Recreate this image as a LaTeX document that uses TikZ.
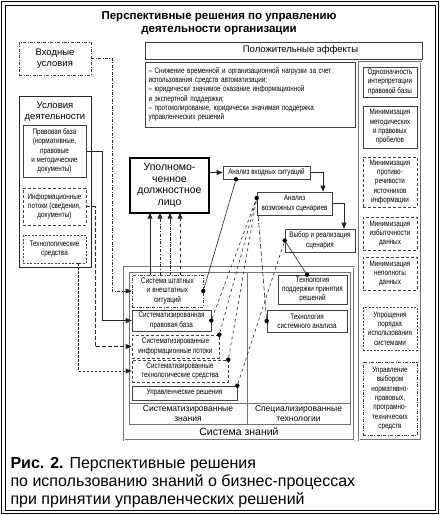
\documentclass[tikz,border=0pt]{standalone}
\usepackage{fontspec}
\setmainfont{Liberation Sans}
\newfontfamily\narrowfont[FakeStretch=0.79]{Liberation Sans}
\usetikzlibrary{arrows.meta, positioning}
\newcommand{\smallfont}{\narrowfont\fontsize{8}{9.3}\selectfont}
\newcommand{\midfont}{\fontsize{9.5}{11}\selectfont}

\begin{document}
\begin{tikzpicture}[x=1pt, y=-1pt,
    box/.style={rectangle, draw=black!75, line width=0.6pt, fill=white, align=center, inner sep=1pt, font=\smallfont},
    dashbox/.style={box, dash pattern=on 3pt off 2pt},
    shortbox/.style={box, dash pattern=on 2pt off 1.5pt},
    dashdotbox/.style={box, dash pattern=on 3pt off 1.5pt on 0.8pt off 1.5pt},
    frame/.style={draw=black!55, line width=0.6pt},
    arrow/.style={-{Triangle[length=6pt, width=5pt]}, line width=0.6pt, draw=black!85},
    link/.style={line width=0.6pt, draw=black!85},
    dot/.style={circle, fill=black, inner sep=0pt, minimum size=4.5pt},
  ]
  \useasboundingbox (0,0) rectangle (440,515);
  % outer frame
  \draw[line width=1.2pt] (1.5,1.5) rectangle (438.5,513.5);
  \draw[line width=0.6pt] (5,5) rectangle (435,510);
  \node[font=\bfseries\fontsize{11.5}{12.5}\selectfont, align=center] (title) at (219,23) {Перспективные решения по управлению\\деятельности организации};

  % left column
  \node[dashdotbox, font=\midfont, minimum width=72, minimum height=33] (vhod) at (55,58.5) {Входные\\условия};
  \node[box, draw=black!85, minimum width=72, minimum height=171] (usl) at (55,181.5) {};
  \node[font=\midfont, align=center, below=3pt of usl.north] (usltitle) {Условия\\деятельности};
  \node[box, minimum width=63, minimum height=52] (prav) at (54.5,151) {Правовая база\\(нормативные,\\правовые\\и методические\\документы)};
  \node[dashbox, minimum width=63, minimum height=37] (info) at (54.5,206.5) {Информационные\\потоки (сведения,\\документы)};
  \node[shortbox, minimum width=63, minimum height=28] (tech) at (54.5,249) {Технологические\\средства};

  % effects
  \node[box, font=\midfont, minimum width=277, minimum height=17] (pos) at (283.5,50.5) {\hspace*{34pt}Положительные эффекты};
  \node[box, align=left, inner xsep=3pt, text width=204, minimum height=65] (eff) at (250.5,94.5) {– Снижение временной и организационной нагрузки за счет\\использования средств автоматизации;\\– юридически значимое оказание информационной\\и экспертной поддержки;\\– протоколирование, юридически значимая поддержка\\управленческих решений};

  % right column
  \draw[frame, double, double distance=1pt] (359,62) rectangle (421,440);
  \node[box, minimum width=54, minimum height=30] (r1) at (390,82) {Однозначность\\интерпретации\\правовой базы};
  \node[box, minimum width=54, minimum height=42] (r2) at (390,127) {Минимизация\\методических\\и правовых\\пробелов};
  \node[dashbox, minimum width=54, minimum height=50] (r3) at (390,182) {Минимизация\\противо-\\речивости\\источников\\информации};
  \node[dashbox, minimum width=54, minimum height=33] (r4) at (390,233.5) {Минимизация\\избыточности\\данных};
  \node[dashbox, minimum width=54, minimum height=33] (r5) at (390,273.5) {Минимизация\\неполноты\\данных};
  \node[shortbox, minimum width=54, minimum height=43] (r6) at (390,328.5) {Упрощения\\порядка\\использования\\системами};
  \node[dashdotbox, minimum width=54, minimum height=73] (r7) at (390,398.5) {Управление\\выбором\\нормативно-\\правовых,\\програмно-\\технических\\средств};

  % decision chain
  \node[box, draw=black, line width=1.3pt, font=\fontsize{10.5}{11.7}\selectfont, minimum width=79, minimum height=55] (upol) at (169.5,185.5) {Уполномо-\\ченное\\должностное\\лицо};
  \node[box, minimum width=87, minimum height=13] (ain) at (266.5,172.5) {Анализ входных ситуаций};
  \node[box, minimum width=75, minimum height=23] (ascen) at (294.5,203.5) {Анализ\\возможных сценариев};
  \node[box, minimum width=70, minimum height=23] (vyb) at (320,240.5) {Выбор и реализация\\сценария};

  % knowledge system
  \draw[frame, double, double distance=1pt] (124,267) rectangle (354,440);
  \draw[frame] (129,272) rectangle (350,424);
  \draw[frame] (129,403) -- (350,403);
  \draw[frame] (247,272) -- (247,424);
  \node[font=\fontsize{8.5}{9.5}\selectfont, align=center] (sznl) at (188,413.5) {Систематизированные\\знания};
  \node[font=\fontsize{8.5}{9.5}\selectfont, align=center] (sznr) at (298.5,413.5) {Специализированные\\технологии};
  \node[font=\fontsize{10.5}{12}\selectfont] (szn) at (239,432) {Система знаний};

  \node[dashdotbox, minimum width=71, minimum height=32] (sys) at (167.5,291) {Система штатных\\и внештатных\\ситуаций};
  \node[box, minimum width=79, minimum height=21] (spb) at (171.5,320.5) {Систематизированная\\правовая база};
  \node[dashbox, minimum width=87, minimum height=23] (sip) at (175.5,346.5) {Систематизированные\\информационные потоки};
  \node[dashbox, minimum width=96, minimum height=22] (sts) at (180,371) {Систематизированные\\технологические средства};
  \node[box, minimum width=105, minimum height=14] (ur) at (184.5,393) {Управленческие решения};
  \node[box, minimum width=69, minimum height=29] (tpp) at (312.5,289.5) {Технология\\поддержки принятия\\решений};
  \node[box, minimum width=80, minimum height=22] (tsa) at (307,321) {Технология\\системного анализа};

  % inputs
  \draw[arrow, dash pattern=on 3pt off 1.5pt on 0.8pt off 1.5pt] (vhod.east) -- ++(21,0) |- (sys.west);
  \draw[arrow] (prav.east) -- ++(16,0) |- (spb.west);
  \draw[arrow, dash pattern=on 4pt off 2pt] (info.east) -- ++(9,0) |- (sip.west);
  \draw[arrow, dash pattern=on 2.5pt off 1.5pt] ([xshift=-8pt]tech.south east) |- (sts.west);

  % to the official
  \foreach \dx/\sty in {-17.5/solid, -7.5/dash dot, 2.5/densely dash dot, 12.5/dashed}
    \draw[arrow, \sty] ([xshift=\dx pt]sys.north) -- ++(0,-62);
  \draw[arrow] (upol.east |- ain.west) -- (ain.west);
  \draw[arrow] (ain.east) -| ([xshift=28.5pt]ascen.north);
  \draw[arrow] (ascen.east) -| ([xshift=24pt]vyb.north);

  % dots and links
  \node[dot] (dain) at ([xshift=-30.5pt]ain.south) {};
  \node[dot] (dascen) at ([yshift=5.5pt]ascen.west) {};
  \node[dot] (dvyb) at (vyb.west) {};
  \node[dot] (dtpp) at ([xshift=-5.5pt]tpp.north) {};
  \node[dot] (dtsa) at (tsa.west) {};
  \node[dot] (dsys) at (sys.east) {};
  \node[dot] (dspb) at (spb.east) {};
  \node[dot] (dsip) at (sip.north east) {};
  \node[dot] (dsts) at (sts.north east) {};
  \node[dot] (dur) at (ur.north east) {};
  \draw[link] (dsys) -- (dain);
  \foreach \n in {dspb, dsip, dsts}
    \draw[link, dashed] (\n) -- (dascen);
  \draw[link, dash pattern=on 5pt off 2pt] (dtsa) -- (dascen);
  \draw[link, dashed] (dur) -- (dvyb);
  \draw[link] (dvyb) -- (dtpp);

  % caption
  \node[anchor=north west, align=left, font=\fontsize{16}{18}\selectfont] (caption) at (7,454) {\textbf{Рис. 2.} Перспективные решения\\по использованию знаний о бизнес-процессах\\при принятии управленческих решений};
\end{tikzpicture}
\end{document}
